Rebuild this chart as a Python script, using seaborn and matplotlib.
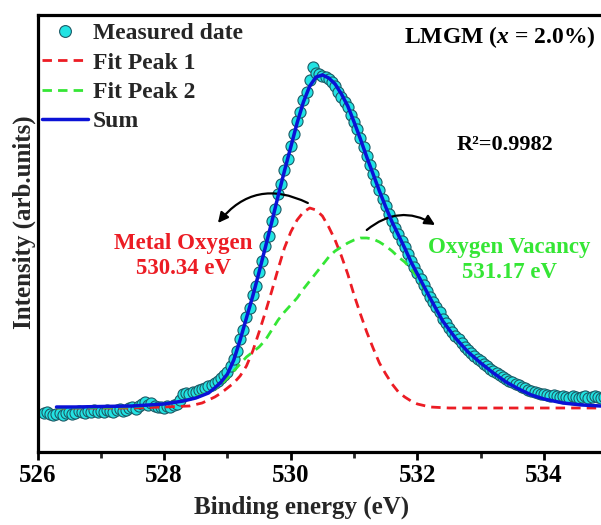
import numpy as np
import pandas as pd
import matplotlib
matplotlib.use("Agg")
import matplotlib.pyplot as plt
import seaborn as sns
from matplotlib.lines import Line2D

# ---------------- data (intensity in arbitrary units) ----------------
meas_start = 526.10
meas_step = 0.05
meas_intensity = [
    39, 40, 38, 37, 38, 39, 37, 39, 40, 38,
    39, 41, 40, 39, 41, 40, 42, 40, 41, 40,
    42, 41, 40, 42, 43, 41, 42, 44, 45, 43,
    46, 48, 50, 47, 49, 46, 45, 45, 44, 46,
    45, 47, 48, 52, 58, 59, 58, 60, 60, 62,
    63, 64, 66, 67, 69, 71, 74, 77, 80, 86,
    93, 101, 113, 122, 135, 144, 157, 166, 180, 191,
    206, 216, 231, 243, 258, 268, 282, 293, 306, 318,
    331, 340, 352, 360, 372, 385, 379, 378, 376, 375,
    373, 370, 366, 360, 355, 350, 345, 337, 330, 323,
    314, 305, 296, 287, 278, 270, 262, 253, 246, 238,
    231, 224, 218, 211, 205, 198, 191, 185, 179, 173,
    167, 161, 155, 150, 145, 140, 133, 129, 124, 120,
    116, 113, 109, 105, 102, 99, 96, 93, 91, 88,
    86, 83, 81, 79, 77, 75, 73, 71, 70, 68,
    67, 65, 64, 62, 61, 60, 59, 58, 58, 57,
    56, 57, 56, 55, 56, 55, 54, 56, 55, 54,
    55, 56, 54, 55, 56, 55, 54, 55, 56,
]
meas_energy = np.round(meas_start + meas_step * np.arange(len(meas_intensity)), 2)

sum_energy = [526.3, 526.6, 527.0, 527.5, 528.0, 528.3, 528.5, 528.7, 528.8, 528.9,
              529.0, 529.1, 529.2, 529.3, 529.4, 529.5, 529.6, 529.7, 529.8, 529.9,
              530.0, 530.1, 530.2, 530.3, 530.4, 530.5, 530.6, 530.7, 530.8, 530.9,
              531.0, 531.1, 531.2, 531.3, 531.4, 531.5, 531.6, 531.7, 531.8, 531.9,
              532.0, 532.2, 532.4, 532.6, 532.8, 533.0, 533.2, 533.4, 533.6, 533.8,
              534.0, 534.3, 534.6, 534.9]
sum_intensity = [45, 45, 45.5, 46, 48, 51, 54, 59, 64, 70,
                 78, 92, 112, 134, 156, 180, 205, 230, 256, 281,
                 305, 329, 350, 366, 375, 377, 374, 368, 358, 346,
                 330, 313, 295, 278, 261, 245, 230, 217, 204, 190,
                 178, 154, 131, 114, 100, 89, 79, 70, 63, 57,
                 53, 49, 47, 46]

peak1_energy = [526.3, 527.0, 527.5, 528.0, 528.4, 528.6, 528.8,
                528.9, 529.0, 529.1, 529.2, 529.3, 529.4, 529.5, 529.6, 529.7, 529.8,
                529.9, 530.0, 530.1, 530.2, 530.3, 530.4, 530.5, 530.6, 530.7, 530.8,
                530.9, 531.0, 531.1, 531.2, 531.3, 531.4, 531.5, 531.6, 531.7, 531.8,
                531.9, 532.0, 532.2, 532.5, 533.0, 534.0, 534.9]
peak1_intensity = [44, 44, 44, 45, 46, 49, 55,
                   59, 64, 69, 76, 86, 101, 120, 140, 161, 183,
                   204, 220, 232, 240, 244, 242, 236, 225, 212, 196,
                   178, 157, 138, 120, 104, 89, 78, 68, 60, 55,
                   51, 48, 45, 44, 44, 44, 44]

peak2_energy = [526.3, 527.0, 527.5, 528.0, 528.3, 528.5, 528.7, 528.8, 528.9, 529.0,
                529.1, 529.2, 529.3, 529.4, 529.5, 529.6, 529.7, 529.8, 529.9, 530.0,
                530.1, 530.2, 530.3, 530.4, 530.5, 530.6, 530.7, 530.8, 530.9, 531.0,
                531.1, 531.2, 531.3, 531.4, 531.5, 531.6, 531.7, 531.8, 531.9, 532.0,
                532.2, 532.4, 532.6, 532.8, 533.0, 533.2, 533.4, 533.6, 533.8, 534.0,
                534.3, 534.6, 534.9]
peak2_intensity = [44, 44.5, 45, 48, 51, 55, 60, 63, 68, 74,
                   81, 88, 95, 100, 105, 112, 122, 132, 140, 147,
                   154, 163, 171, 179, 187, 195, 201, 205, 209, 212,
                   214, 214, 213, 210, 206, 201, 195, 190, 183, 175,
                   153, 131, 114, 100, 89, 79, 70, 63, 57, 53,
                   49, 47, 46]

xticks_major = [526, 528, 530, 532, 534]
xticks_minor = [527, 529, 531, 533]

# ---------------- style ----------------
sns.set_style("ticks")
plt.rcParams['font.family'] = ['Liberation Serif', 'DejaVu Serif']
plt.rcParams['font.weight'] = 'bold'
plt.rcParams['mathtext.fontset'] = 'custom'
plt.rcParams['mathtext.rm'] = 'Liberation Serif:bold'
plt.rcParams['mathtext.it'] = 'Liberation Serif:italic:bold'
plt.rcParams['mathtext.bf'] = 'Liberation Serif:bold'

CYAN = '#22e3e3'
EDGE = '#1d5a66'
BLUE = '#0b12d6'
RED = '#ec1c24'
GREEN = '#35e635'

fig = plt.figure(figsize=(6.01, 5.25), dpi=100)
ax = fig.add_axes([37.5 / 601, 73 / 525, 563.5 / 601, 437 / 525])

df_meas = pd.DataFrame({'E': meas_energy, 'I': meas_intensity})
df_sum = pd.DataFrame({'E': sum_energy, 'I': sum_intensity})
df_p1 = pd.DataFrame({'E': peak1_energy, 'I': peak1_intensity})
df_p2 = pd.DataFrame({'E': peak2_energy, 'I': peak2_intensity})

sns.scatterplot(data=df_meas, x='E', y='I', ax=ax, s=64, color=CYAN,
                edgecolor=EDGE, linewidth=0.8, zorder=2, legend=False)
sns.lineplot(data=df_p1, x='E', y='I', ax=ax, color=RED, lw=2.0,
             linestyle=(0, (3.4, 2.2)), sort=False, zorder=3, legend=False)
sns.lineplot(data=df_p2, x='E', y='I', ax=ax, color=GREEN, lw=2.0,
             linestyle=(0, (3.4, 2.2)), sort=False, zorder=3, legend=False)
sns.lineplot(data=df_sum, x='E', y='I', ax=ax, color=BLUE, lw=2.5,
             sort=False, zorder=4, legend=False)

ax.set_xlim(526, 534.9)
ax.set_ylim(0, 437)
ax.set_xticks(xticks_major)
ax.set_xticks(xticks_minor, minor=True)
ax.set_xticklabels([str(t) for t in xticks_major])
ax.set_yticks([])
ax.tick_params(axis='x', which='major', direction='out', length=6, width=2,
               labelsize=18, pad=3, colors='black')
ax.tick_params(axis='x', which='minor', direction='out', length=4, width=2)
for lab in ax.get_xticklabels():
    lab.set_fontweight('bold')

for side in ['left', 'bottom', 'top']:
    ax.spines[side].set_linewidth(2.3)
    ax.spines[side].set_color('black')
ax.spines['right'].set_visible(False)

ax.set_xlabel('Binding energy (eV)', fontsize=18, fontweight='bold')
ax.set_ylabel('Intensity (arb.units)', fontsize=18, fontweight='bold')
ax.xaxis.set_label_coords(0.468, -0.099)
ax.yaxis.set_label_coords(-0.002, 0.526)

# legend
handles = [
    Line2D([], [], marker='o', linestyle='none', markersize=8.5,
           markerfacecolor=CYAN, markeredgecolor=EDGE, markeredgewidth=0.8),
    Line2D([], [], color=RED, lw=2.0, linestyle=(0, (3.4, 2.2))),
    Line2D([], [], color=GREEN, lw=2.0, linestyle=(0, (3.4, 2.2))),
    Line2D([], [], color=BLUE, lw=2.5),
]
labels = ['Measured date', 'Fit Peak 1', 'Fit Peak 2', 'Sum']
leg = ax.legend(handles, labels, loc='upper left', bbox_to_anchor=(0.008, 0.982),
                frameon=False, fontsize=17, handlelength=1.95, handletextpad=0.2,
                labelspacing=0.33, borderpad=0, borderaxespad=0)
for t in leg.get_texts():
    t.set_fontweight('bold')

# texts
ax.text(534.81, 415, r'LMGM ($x$ = 2.0%)', ha='right', va='center',
        fontsize=17, fontweight='bold', color='black')
ax.text(533.39, 307, 'R²=0.9982', ha='center', va='center',
        fontsize=16, fontweight='bold', color='black')
ax.text(528.30, 196.5, 'Metal Oxygen\n530.34 eV', ha='center', va='center',
        multialignment='center', linespacing=1.25,
        fontsize=16.5, fontweight='bold', color=RED)
ax.text(533.45, 192, 'Oxygen Vacancy\n531.17 eV', ha='center', va='center',
        multialignment='center', linespacing=1.25,
        fontsize=16.5, fontweight='bold', color=GREEN)

# curved arrows
ax.annotate('', xy=(528.85, 229), xytext=(530.27, 249),
            arrowprops=dict(arrowstyle='-|>', connectionstyle='arc3,rad=0.4',
                            lw=1.6, color='black', mutation_scale=15,
                            shrinkA=0, shrinkB=0))
ax.annotate('', xy=(532.28, 227), xytext=(531.2, 222),
            arrowprops=dict(arrowstyle='-|>', connectionstyle='arc3,rad=-0.35',
                            lw=1.6, color='black', mutation_scale=15,
                            shrinkA=0, shrinkB=0))

fig.savefig('out.png', dpi=100)
